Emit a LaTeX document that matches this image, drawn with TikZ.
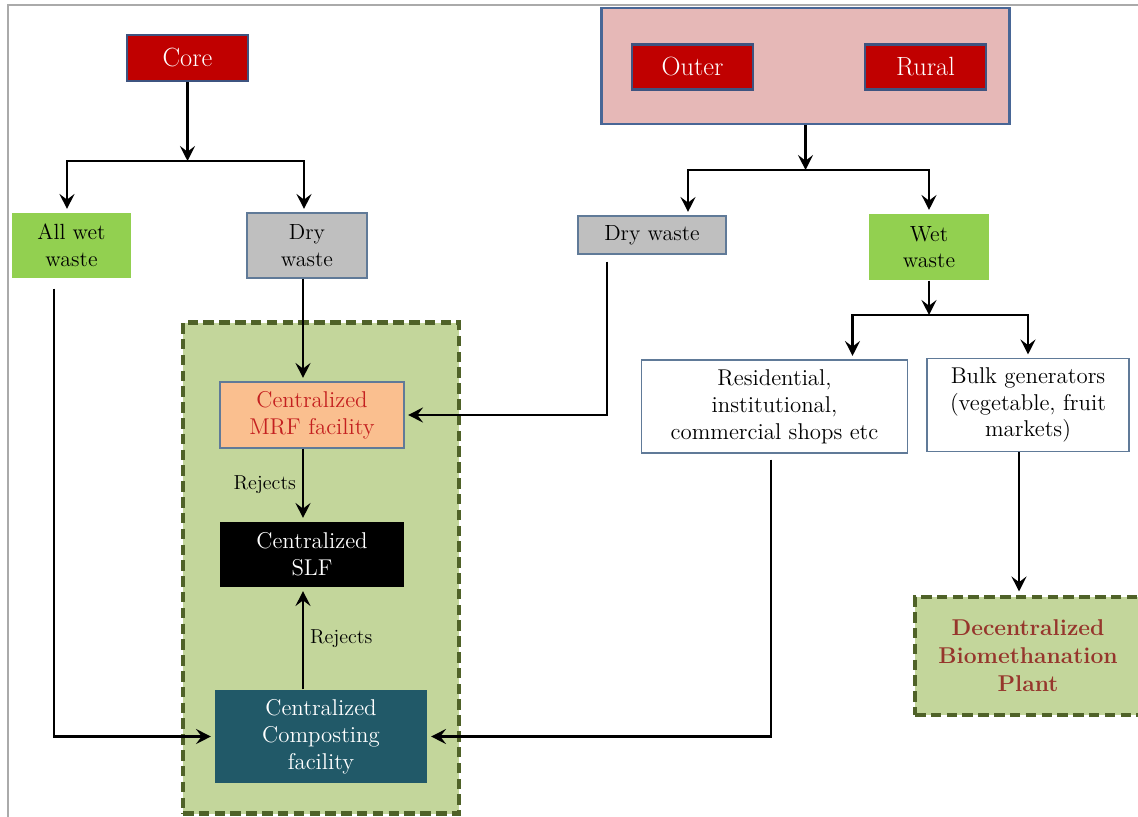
\documentclass[tikz,border=0pt]{standalone}
\usepackage{fontspec}
\usepackage{xcolor}
\usepackage{tikz}
\usetikzlibrary{arrows.meta,positioning,calc}
\definecolor{corered}{RGB}{192,0,0}
\definecolor{boxblue}{RGB}{62,84,128}
\definecolor{wetgreen}{RGB}{146,208,80}
\definecolor{drygray}{RGB}{191,191,191}
\definecolor{thinblue}{RGB}{96,122,152}
\definecolor{zonegreen}{RGB}{195,214,155}
\definecolor{zonedash}{RGB}{79,98,40}
\definecolor{mrforange}{RGB}{250,191,143}
\definecolor{mrftext}{RGB}{196,32,32}
\definecolor{compteal}{RGB}{33,89,104}
\definecolor{outerpink}{RGB}{230,184,183}
\definecolor{outerblue}{RGB}{72,102,150}
\definecolor{biotext}{RGB}{150,54,44}
\definecolor{framegray}{RGB}{170,170,170}
\newlength\pxu
\setlength\pxu{0.02cm}

\tikzset{
  box/.style={draw=thinblue,line width=0.6pt,align=center,inner sep=0pt,text=black,font=\fontsize{12.5}{15.2}\selectfont},
  redbox/.style={draw=boxblue,line width=1.6pt,fill=corered,text=white,inner sep=0pt,font=\fontsize{15}{18}\selectfont},
  dashzone/.style={draw=zonedash,fill=zonegreen,line width=2.3pt,dash pattern=on 6pt off 3pt},
  arr/.style={line width=1.3pt,shorten >=2pt,-{Stealth[length=8.5pt,width=8.5pt,inset=3.2pt]}},
  splitarr/.style={arr,shorten >=0pt},
  rejlabel/.style={font=\fontsize{11.5}{13}\selectfont,text=black},
}

\begin{document}
\begin{tikzpicture}[x=1\pxu,y=-1\pxu]
  \useasboundingbox (0,0) rectangle (1138,817);
  \draw[framegray,line width=1.2pt] (8,817) -- (8,5) -- (1138,5);

  % centralized zone in the background
  \node[dashzone,minimum width=276\pxu,minimum height=491\pxu] (zone) at (321,568) {};

  % core branch
  \node[redbox,minimum width=121\pxu,minimum height=46\pxu] (core) at (187.5,58) {Core};
  \node[box,draw=none,fill=wetgreen,minimum width=119\pxu,minimum height=65\pxu] (allwet) at (71.5,245.5) {All wet\\waste};
  \node[box,fill=drygray,minimum width=120\pxu,minimum height=65\pxu] (dryleft) at (307,245.5) {Dry\\waste};
  \node[box,fill=mrforange,text=mrftext,font=\fontsize{13}{15.3}\selectfont,minimum width=184\pxu,minimum height=66\pxu] (mrf) at (312,415) {Centralized\\MRF facility};
  \node[box,draw=none,fill=black,text=white,font=\fontsize{13}{15.3}\selectfont,minimum width=184\pxu,minimum height=65\pxu] (slf) at (312,554.5) {Centralized\\SLF};
  \node[box,draw=none,fill=compteal,text=white,font=\fontsize{13}{15.3}\selectfont,minimum width=212\pxu,minimum height=93\pxu] (compost) at (321,736.5) {Centralized\\Composting\\facility};

  % outer and rural branch
  \node[draw=outerblue,line width=1.3pt,fill=outerpink,minimum width=408\pxu,minimum height=116\pxu] (outerrural) at (805.5,66) {};
  \node[redbox,minimum width=121\pxu,minimum height=45\pxu] (outer) at (692.5,67) {Outer};
  \node[redbox,minimum width=121\pxu,minimum height=45\pxu] (rural) at (925.5,67) {Rural};
  \node[box,fill=drygray,minimum width=148\pxu,minimum height=38\pxu] (dryright) at (652,235) {Dry waste};
  \node[box,draw=none,fill=wetgreen,minimum width=120\pxu,minimum height=66\pxu] (wetright) at (929,247) {Wet\\waste};
  \node[box,font=\fontsize{13}{15.3}\selectfont,minimum width=266\pxu,minimum height=93\pxu] (resid) at (774.5,406.5) {Residential,\\institutional,\\commercial shops etc};
  \node[box,font=\fontsize{13}{15.3}\selectfont,minimum width=202\pxu,minimum height=93\pxu] (bulk) at (1028,405) {Bulk generators\\(vegetable, fruit\\markets)};
  \node[dashzone,align=center,text=biotext,font=\bfseries\fontsize{13}{16}\selectfont,minimum width=226\pxu,minimum height=118\pxu] (biometh) at (1028,656) {Decentralized\\Biomethanation\\Plant};

  \coordinate (coresplit) at (187.5,161);
  \coordinate (outersplit) at (805.5,170);
  \coordinate (wetsplit) at (929,315);

  % connectors
  \draw[splitarr] (core) -- (coresplit);
  \draw[arr] (coresplit) -| ([xshift=-4.5\pxu]allwet.north);
  \draw[arr] (coresplit) -| ([xshift=-3\pxu]dryleft.north);
  \draw[arr] ([xshift=-4\pxu]dryleft.south) -- ([xshift=-4\pxu]dryleft.south |- mrf.north);
  \draw[arr] ([xshift=-9\pxu]mrf.south) -- ([xshift=-9\pxu]slf.north) node[midway,left,rejlabel] {Rejects};
  \draw[arr] ([xshift=-18\pxu]compost.north) -- ([xshift=-9\pxu]slf.south) node[midway,right,rejlabel] {Rejects};
  \draw[arr] ([xshift=-17.5\pxu,yshift=-10\pxu]allwet.south) |- (compost.west);

  \draw[splitarr] (outerrural) -- (outersplit);
  \draw[arr] (outersplit) -| ([xshift=36\pxu]dryright.north);
  \draw[arr] (outersplit) -| (wetright.north);
  \draw[arr] ([xshift=-45\pxu,yshift=-7\pxu]dryright.south) |- (mrf.east);
  \draw[splitarr] (wetright) -- (wetsplit);
  \draw[arr] (wetsplit) -| ([xshift=78\pxu]resid.north);
  \draw[arr] (wetsplit) -| (bulk.north);
  \draw[arr] ([xshift=-3.5\pxu,yshift=-6\pxu]resid.south) |- (compost.east);
  \draw[arr] ([xshift=-9\pxu]bulk.south) -- ([xshift=-9\pxu]bulk.south |- biometh.north);
\end{tikzpicture}
\end{document}
